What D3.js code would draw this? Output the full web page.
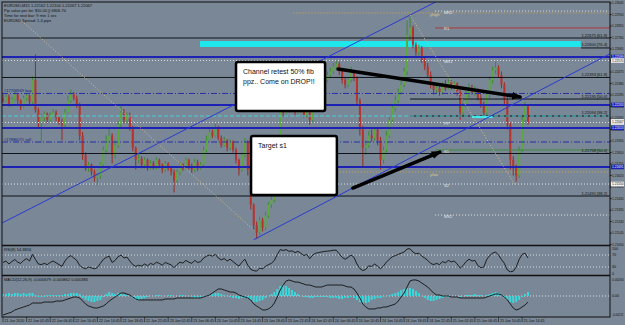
<!DOCTYPE html>
<html>
<head>
<meta charset="utf-8">
<script src="https://cdn.jsdelivr.net/npm/d3@7"></script>
<style>
  body { margin: 0; background: #798796; }
  svg text { font-family: "Liberation Sans", Arial, sans-serif; }
</style>
</head>
<body>
<svg id="chart" width="625" height="325"></svg>
<script>
// EURUSD bars (one bar every 30 min from 21 Jun 22:45)
const firstOpen = 1.2226
const closes = [
  1.2224,1.2227,1.2221,1.2225,1.2229,1.2224,1.2219,1.2226,1.2228,1.2223,
  1.2241,1.2216,1.2206,1.2210,1.2213,1.2208,1.2211,1.2214,1.2210,1.2206,
  1.2204,1.2214,1.2224,1.2229,1.2226,1.2220,1.2195,1.2179,1.2168,1.2171,
  1.2165,1.2160,1.2162,1.2171,1.2183,1.2191,1.2195,1.2179,1.2187,1.2204,
  1.2214,1.2208,1.2212,1.2201,1.2185,1.2175,1.2176,1.2171,1.2175,1.2168,
  1.2172,1.2169,1.2175,1.2171,1.2167,1.2172,1.2168,1.2165,1.2158,1.2165,
  1.2171,1.2168,1.2175,1.2170,1.2167,1.2173,1.2168,1.2171,1.2183,1.2191,
  1.2198,1.2195,1.2201,1.2193,1.2187,1.2191,1.2185,1.2190,1.2183,1.2175,
  1.2167,1.2179,1.2190,1.2167,1.2138,1.2121,1.2115,1.2125,1.2119,1.2129,
  1.2138,1.2142,1.2154,1.2183,1.2216,1.2214,1.2220,1.2216,1.2218,1.2214,
  1.2219,1.2216,1.2212,1.2214,1.2208,1.2218,1.2226,1.2231,1.2237,1.2241,
  1.2245,1.2248,1.2252,1.2254,1.2248,1.2241,1.2237,1.2241,1.2248,1.2243,
  1.2224,1.2200,1.2185,1.2187,1.2195,1.2193,1.2200,1.2191,1.2175,1.2183,
  1.2195,1.2208,1.2218,1.2224,1.2231,1.2237,1.2248,1.2278,1.2284,1.2270,
  1.2264,1.2267,1.2257,1.2252,1.2245,1.2237,1.2233,1.2234,1.2231,1.2237,
  1.2234,1.2239,1.2236,1.2238,1.2231,1.2214,1.2220,1.2229,1.2234,1.2231,
  1.2233,1.2226,1.2220,1.2214,1.2229,1.2241,1.2249,1.2251,1.2245,1.2237,
  1.2224,1.2204,1.2175,1.2168,1.2162,1.2183,1.2208,1.2220,1.2206
]
const highs = [
  1.2229,1.2229,1.2229,1.2227,1.2231,1.2230,1.2225,1.2228,1.2230,1.2229,
  1.2244,1.2262,1.2218,1.2213,1.2215,1.2214,1.2214,1.2217,1.2216,1.2211,
  1.2209,1.2217,1.2228,1.2233,1.2231,1.2228,1.2222,1.2198,1.2181,1.2173,
  1.2172,1.2167,1.2164,1.2173,1.2186,1.2195,1.2202,1.2197,1.2191,1.2207,
  1.2220,1.2217,1.2214,1.2214,1.2203,1.2186,1.2180,1.2178,1.2177,1.2176,
  1.2175,1.2174,1.2177,1.2176,1.2172,1.2174,1.2173,1.2170,1.2167,1.2167,
  1.2173,1.2172,1.2177,1.2176,1.2172,1.2176,1.2175,1.2173,1.2186,1.2195,
  1.2201,1.2200,1.2205,1.2203,1.2195,1.2194,1.2192,1.2192,1.2191,1.2185,
  1.2176,1.2181,1.2193,1.2191,1.2168,1.2139,1.2124,1.2128,1.2127,1.2132,
  1.2140,1.2145,1.2158,1.2187,1.2220,1.2219,1.2223,1.2222,1.2221,1.2219,
  1.2222,1.2221,1.2218,1.2217,1.2216,1.2220,1.2229,1.2234,1.2239,1.2244,
  1.2248,1.2251,1.2255,1.2257,1.2256,1.2249,1.2243,1.2243,1.2252,1.2249,
  1.2244,1.2226,1.2203,1.2191,1.2199,1.2200,1.2202,1.2201,1.2194,1.2186,
  1.2199,1.2211,1.2221,1.2228,1.2234,1.2241,1.2251,1.2290,1.2295,1.2286,
  1.2272,1.2270,1.2269,1.2260,1.2255,1.2248,1.2239,1.2238,1.2237,1.2239,
  1.2241,1.2242,1.2241,1.2240,1.2239,1.2233,1.2224,1.2232,1.2238,1.2237,
  1.2236,1.2234,1.2229,1.2223,1.2231,1.2244,1.2252,1.2256,1.2253,1.2248,
  1.2239,1.2227,1.2206,1.2178,1.2171,1.2186,1.2211,1.2223,1.2221
]
const lows = [
  1.2222,1.2223,1.2219,1.2219,1.2224,1.2221,1.2216,1.2218,1.2224,1.2220,
  1.2221,1.2214,1.2201,1.2189,1.2207,1.2205,1.2206,1.2210,1.2207,1.2204,
  1.2191,1.2202,1.2213,1.2222,1.2224,1.2218,1.2191,1.2175,1.2166,1.2165,
  1.2162,1.2157,1.2154,1.2159,1.2168,1.2181,1.2189,1.2172,1.2176,1.2185,
  1.2202,1.2205,1.2205,1.2199,1.2182,1.2167,1.2172,1.2168,1.2168,1.2166,
  1.2167,1.2167,1.2167,1.2168,1.2164,1.2165,1.2166,1.2162,1.2148,1.2156,
  1.2162,1.2166,1.2167,1.2167,1.2164,1.2165,1.2166,1.2167,1.2169,1.2181,
  1.2190,1.2193,1.2194,1.2191,1.2185,1.2186,1.2182,1.2183,1.2181,1.2172,
  1.2162,1.2165,1.2177,1.2162,1.2134,1.2117,1.2110,1.2113,1.2116,1.2117,
  1.2127,1.2135,1.2140,1.2152,1.2181,1.2211,1.2213,1.2214,1.2214,1.2212,
  1.2213,1.2214,1.2210,1.2210,1.2204,1.2206,1.2216,1.2224,1.2229,1.2235,
  1.2239,1.2243,1.2246,1.2250,1.2245,1.2238,1.2234,1.2235,1.2239,1.2240,
  1.2221,1.2195,1.2169,1.2179,1.2185,1.2190,1.2191,1.2187,1.2167,1.2172,
  1.2181,1.2193,1.2205,1.2215,1.2222,1.2229,1.2235,1.2245,1.2274,1.2267,
  1.2261,1.2261,1.2255,1.2249,1.2243,1.2234,1.2229,1.2230,1.2228,1.2229,
  1.2232,1.2233,1.2233,1.2233,1.2228,1.2208,1.2211,1.2218,1.2226,1.2229,
  1.2228,1.2224,1.2218,1.2210,1.2212,1.2226,1.2238,1.2246,1.2243,1.2234,
  1.2221,1.2200,1.2167,1.2162,1.2157,1.2160,1.2181,1.2205,1.2204
]
const rsiValues = [
  45,50,40,48,55,46,42,52,58,50, 72,55,40,38,42,38,45,50,44,38,
  32,50,62,68,60,52,35,28,24,30, 27,24,28,42,55,62,66,45,52,64,
  70,60,63,50,38,32,36,33,40,34, 42,38,46,42,36,45,41,37,28,38,
  46,43,52,46,42,52,45,48,60,66, 70,66,72,60,54,58,50,56,48,40,
  33,46,56,36,22,18,16,26,24,32, 38,42,52,72,88,85,88,82,84,78,
  82,76,68,72,58,70,76,78,80,82, 83,84,86,86,74,62,56,62,70,62,
  40,25,18,22,34,32,40,33,24,34, 46,56,64,68,72,76,80,90,91,80,
  74,76,66,60,52,42,38,42,38,48, 44,52,47,50,40,26,35,48,56,50,
  52,35,28,30,55,68,76,80,70,55, 42,20,14,16,30,55,72,76,60
]
const macdLine = [
  -0.00211,-0.00200,-0.00189,-0.00178,-0.00155,-0.00144,-0.00133,-0.00122,-0.00111,-0.00100,
  -0.00078,-0.00078,-0.00078,-0.00078,-0.00067,-0.00067,-0.00067,-0.00067,-0.00056,-0.00056,
  -0.00056,-0.00044,-0.00033,-0.00022,-0.00011,-0.00011,-0.00022,-0.00056,-0.00089,-0.00111,
  -0.00122,-0.00133,-0.00133,-0.00122,-0.00111,-0.00089,-0.00056,-0.00033,-0.00011,0.00011,
  0.00033,0.00033,0.00022,0.00011,-0.00011,-0.00033,-0.00044,-0.00044,-0.00044,-0.00044,
  -0.00044,-0.00044,-0.00044,-0.00044,-0.00044,-0.00033,-0.00033,-0.00033,-0.00033,-0.00022,
  -0.00022,-0.00022,-0.00022,-0.00022,-0.00022,-0.00022,-0.00022,-0.00022,-0.00011,0,
  0.00011,0.00033,0.00056,0.00078,0.00078,0.00067,0.00056,0.00044,0.00044,0.00033,
  0.00011,0,-0.00011,-0.00022,-0.00044,-0.00089,-0.00111,-0.00133,-0.00155,-0.00155,
  -0.00144,-0.00122,-0.00078,-0.00011,0.00067,0.00122,0.00167,0.00178,0.00167,0.00155,
  0.00155,0.00144,0.00133,0.00122,0.00122,0.00111,0.00100,0.00100,0.00100,0.00111,
  0.00122,0.00122,0.00122,0.00122,0.00122,0.00122,0.00111,0.00100,0.00100,0.00078,
  0.00033,-0.00022,-0.00089,-0.00122,-0.00144,-0.00144,-0.00144,-0.00133,-0.00133,-0.00122,
  -0.00122,-0.00111,-0.00100,-0.00089,-0.00056,-0.00011,0.00033,0.00100,0.00167,0.00178,
  0.00178,0.00167,0.00144,0.00122,0.00100,0.00067,0.00033,0.00011,0.00011,0,
  0,0,-0.00011,-0.00011,-0.00011,-0.00022,-0.00022,-0.00022,-0.00022,-0.00022,
  -0.00022,-0.00022,-0.00022,-0.00022,-0.00011,0,0.00011,0.00022,0.00022,0.00011,
  -0.00011,-0.00044,-0.00089,-0.00133,-0.00155,-0.00144,-0.00122,-0.00100,-0.00067
]
const macdHist = [
  0.00022,0.00022,0.00033,0.00022,0.00033,0.00033,0.00022,0.00033,0.00022,0.00033,
  0.00033,0.00011,-0.00011,-0.00011,-0.00011,0.00011,0.00011,0.00011,0.00011,0.00011,
  0.00011,0.00022,0.00022,0.00033,0.00033,0.00033,0.00022,-0.00022,-0.00044,-0.00056,
  -0.00067,-0.00067,-0.00056,-0.00044,-0.00011,0.00022,0.00044,0.00033,0.00022,0.00033,
  0.00033,0.00022,0.00011,0,-0.00022,-0.00044,-0.00044,-0.00033,-0.00022,-0.00011,
  0,0,0.00011,0.00011,0,0,0.00011,0.00011,0,0,
  0.00011,0.00011,0,0,-0.00011,-0.00022,-0.00022,-0.00011,-0.00011,0,
  0.00011,0.00022,0.00033,0.00033,0.00022,0.00011,0,-0.00011,-0.00022,-0.00022,
  -0.00033,-0.00022,-0.00022,-0.00033,-0.00044,-0.00067,-0.00067,-0.00056,-0.00044,-0.00022,
  0,0.00022,0.00044,0.00078,0.00111,0.00122,0.00111,0.00089,0.00067,0.00044,
  0.00022,0,-0.00011,-0.00011,-0.00022,-0.00022,-0.00011,-0.00011,-0.00011,-0.00011,
  -0.00011,-0.00022,-0.00022,-0.00022,-0.00033,-0.00033,-0.00022,-0.00022,-0.00011,-0.00022,
  -0.00044,-0.00067,-0.00078,-0.00078,-0.00067,-0.00044,-0.00033,-0.00022,-0.00022,-0.00011,
  0,0.00011,0.00022,0.00033,0.00044,0.00067,0.00078,0.00089,0.00089,0.00078,
  0.00056,0.00033,0,-0.00022,-0.00044,-0.00056,-0.00056,-0.00044,-0.00033,-0.00022,
  -0.00011,-0.00011,0,0,0,-0.00011,0,0.00011,0.00011,0.00011,
  0.00022,0.00011,0.00011,0,0.00011,0.00022,0.00033,0.00044,0.00033,0.00011,
  -0.00022,-0.00044,-0.00067,-0.00078,-0.00067,-0.00044,-0.00011,0.00022,0.00044
]

const priceTicks = [1.23045,1.22950,1.22855,1.22760,1.22665,1.22570,1.22475,1.22380,1.22285,1.22190,1.22095,
  1.22000,1.21905,1.21810,1.21715,1.21620,1.21525,1.21430,1.21335,1.21240,1.21145,1.21050]
const timeLabels = ['21 Jun 2010','22 Jun 02:45','22 Jun 06:45','22 Jun 10:45','22 Jun 14:45','22 Jun 18:45',
  '22 Jun 22:45','23 Jun 02:45','23 Jun 06:45','23 Jun 10:45','23 Jun 14:45','23 Jun 18:45','23 Jun 22:45',
  '24 Jun 02:45','24 Jun 06:45','24 Jun 10:45','24 Jun 14:45','24 Jun 18:45','24 Jun 22:45','25 Jun 02:45',
  '25 Jun 06:45','25 Jun 10:45','25 Jun 14:45']
const barsPerTimeLabel = 8

// horizontal levels (price, first bar index, text)
const fibLevels = [
  { price: 1.22756, from: 0, text: '1.22675  [61.8]' },
  { price: 1.22674, from: 196, text: '1.22600  [76.4]' },
  { price: 1.22430, from: 0, text: '1.22393  [61.8]' },
  { price: 1.22252, from: 138, text: '1.22195  [50.0]' },
  { price: 1.22112, from: 138, text: '1.22094  [38.2]' },
  { price: 1.21802, from: 0, text: '1.21758  [50.0]' },
  { price: 1.21451, from: 0, text: '1.21491  [38.2]' }
]
const blueLevels = [1.22599, 1.22203, 1.22013, 1.21691]
const orderLevels = [
  { price: 1.22298, text: '#17708949 buy' },
  { price: 1.21897, text: '#17886071 sell' }
]
const dottedLevels = [
  { price: 1.22979, from: 146.5, text: 'MR2' },
  { price: 1.22570, from: 0, text: 'MR1' },
  { price: 1.22058, from: 0, text: 'PP' },
  { price: 1.21550, from: 0, text: 'S2' },
  { price: 1.21294, from: 146.5, text: 'MS2' }
]
const resistLevels = [{ price: 1.22839, from: 146.5, text: 'R1' }]
const supportLevels = [{ price: 1.21831, from: 146.5, text: 'S1' }]
const dayLevels = [
  { price: 1.22963, from: 98.5, text: 'yhigh' },
  { price: 1.21649, from: 114.2, text: 'ylow' }
]
const zoneLevel = { top: 1.22731, bottom: 1.22682, from: 66.8, to: 195.9 }
const dashedCyanLevel = 1.22112
const retestSegment = { price: 1.22103, from: 159, to: 166 }

const channelUpper = [{ i: 0, p: 1.21232 }, { i: 138, p: 1.22946 }]
const channelLower = [{ i: 85, p: 1.21090 }, { i: 203, p: 1.22590 }]
const fibDiagonals = [
  [{ i: 6.4, p: 1.22897 }, { i: 85.4, p: 1.21162 }],
  [{ i: 138, p: 1.22946 }, { i: 173.6, p: 1.21542 }]
]
const arrows = [
  [{ i: 113.6, p: 1.22500 }, { i: 175.3, p: 1.22269 }],
  [{ i: 118.6, p: 1.21517 }, { i: 148.1, p: 1.21814 }]
]
const notes = [
  { i0: 79.0, p0: 1.22558, i1: 109.2, p1: 1.22153, lines: ['Channel retest 50% fib', 'ppz.. Come on DROP!!'] },
  { i0: 84.1, p0: 1.21947, i1: 113.2, p1: 1.21459, lines: ['Target s1'] }
]
const headerLines = ['EURUSD,M15  1.22162 1.22100 1.22067 1.22067', 'Pip value per lot: $10.00  ||  6806.70',
  'Time for next bar: 9 min 1 sec', 'EURUSD Spread: 1.4 pips']
const rsiTitle = 'RSI(8) 54.3816'
const macdTitle = 'MACD(12,26,9) -0.000679 -0.000862 0.000383'
const rsiTicks = [100, 70, 30, 0]
const macdTicks = [0.00200, 0, -0.00211]
const lastPrice = 1.22067

const left = 2, right = 610
const mainTop = 2, mainBottom = 245
const rsiTop = 246, rsiBottom = 275
const macdTop = 276, macdBottom = 317

const x = d3.scaleLinear().domain([0, 178]).range([3, 528])
const y = d3.scaleLinear().domain([1.21005, 1.2307]).range([250, 0])
const rsiY = d3.scaleLinear().domain([0, 100]).range([276, 246])
const macdY = d3.scaleLinear().domain([-0.00211, 0.00200]).range([315, 278])

const svg = d3.select('#chart')
svg.append('rect').attr('width', 625).attr('height', 325).attr('fill', '#798796')

const defs = svg.append('defs')
defs.append('clipPath').attr('id', 'mainClip').append('rect')
  .attr('x', left).attr('y', mainTop).attr('width', right - left).attr('height', mainBottom - mainTop)
defs.append('marker').attr('id', 'head')
  .attr('markerUnits', 'userSpaceOnUse').attr('viewBox', '0 0 10 8')
  .attr('markerWidth', 10).attr('markerHeight', 8).attr('refX', 8).attr('refY', 4).attr('orient', 'auto')
  .append('path').attr('d', 'M0,0L10,4L0,8Z').attr('fill', '#000')

const main = svg.append('g').attr('clip-path', 'url(#mainClip)')

// supply/demand zone
main.append('rect')
  .attr('x', x(zoneLevel.from)).attr('width', x(zoneLevel.to) - x(zoneLevel.from))
  .attr('y', y(zoneLevel.top)).attr('height', y(zoneLevel.bottom) - y(zoneLevel.top))
  .attr('fill', '#1ee8ec')

function hline(g, price, from, color, width, dash) {
  g.append('line')
    .attr('x1', from > 0 ? x(from) : left).attr('x2', right)
    .attr('y1', y(price)).attr('y2', y(price))
    .attr('stroke', color).attr('stroke-width', width)
    .attr('stroke-dasharray', dash || null)
}

// candles
const bars = closes.map((c, i) => ({ i, o: i ? closes[i - 1] : firstOpen, c, h: highs[i], l: lows[i] }))
const candle = main.selectAll('.candle').data(bars).enter().append('g').attr('class', 'candle')
candle.append('line')
  .attr('x1', d => x(d.i)).attr('x2', d => x(d.i))
  .attr('y1', d => y(Math.max(d.h, d.o, d.c))).attr('y2', d => y(Math.min(d.l, d.o, d.c)))
  .attr('stroke', d => d.c >= d.o ? '#3f8a36' : '#9a2b26').attr('stroke-width', 1)
candle.append('rect')
  .attr('x', d => x(d.i) - 1).attr('width', 2)
  .attr('y', d => y(Math.max(d.o, d.c)))
  .attr('height', d => Math.max(1, Math.abs(y(d.o) - y(d.c))))
  .attr('fill', d => d.c >= d.o ? '#5da843' : '#b8332b')

// levels
fibLevels.forEach(d => hline(main, d.price, d.from, '#101418', 1))
blueLevels.forEach(p => hline(main, p, 0, '#1d22b4', 2))
orderLevels.forEach(d => hline(main, d.price, 0, '#2a2fa8', 1, '6,2,1,2'))
dottedLevels.forEach(d => hline(main, d.price, d.from, '#dfe3e6', 1, '1,2'))
resistLevels.forEach(d => hline(main, d.price, d.from, '#b03a3a', 1))
supportLevels.forEach(d => hline(main, d.price, d.from, '#3e8a3e', 1))
dayLevels.forEach(d => hline(main, d.price, d.from, '#d8a850', 1, '1,2'))
hline(main, dashedCyanLevel, 0, '#45d2d6', 1, '4,2')
main.append('line')
  .attr('x1', x(retestSegment.from)).attr('x2', x(retestSegment.to))
  .attr('y1', y(retestSegment.price)).attr('y2', y(retestSegment.price))
  .attr('stroke', '#40eef0').attr('stroke-width', 2)

// channel and fib diagonals, extended through the panel
function ray(g, pts, color, width, dash, both) {
  const [a, b] = pts
  const slope = (b.p - a.p) / (b.i - a.i)
  const i0 = both ? -20 : a.i
  const i1 = 230
  g.append('line')
    .attr('x1', x(i0)).attr('y1', y(a.p + slope * (i0 - a.i)))
    .attr('x2', x(i1)).attr('y2', y(a.p + slope * (i1 - a.i)))
    .attr('stroke', color).attr('stroke-width', width).attr('stroke-dasharray', dash || null)
}
ray(main, channelUpper, '#2b3ad0', 1, null, true)
ray(main, channelLower, '#2b3ad0', 1, null, false)
fibDiagonals.forEach(pts => {
  main.append('line')
    .attr('x1', x(pts[0].i)).attr('y1', y(pts[0].p))
    .attr('x2', x(pts[1].i)).attr('y2', y(pts[1].p))
    .attr('stroke', '#d9c08a').attr('stroke-width', 1).attr('stroke-dasharray', '1,2')
})

// level labels
const small = svg.append('g').attr('font-size', 4)
fibLevels.forEach(d => small.append('text').attr('x', 607).attr('y', y(d.price) - 1.5)
  .attr('text-anchor', 'end').attr('fill', '#111').text(d.text))
orderLevels.forEach(d => small.append('text').attr('x', 4).attr('y', y(d.price) - 1.5)
  .attr('fill', '#1a1f80').text(d.text))
dottedLevels.concat(resistLevels, supportLevels).forEach(d => small.append('text')
  .attr('x', 444).attr('y', y(d.price) + 2.5).attr('fill', '#e6e8ea').text(d.text))
dayLevels.forEach(d => small.append('text').attr('x', 430).attr('y', y(d.price) + 3.5)
  .attr('fill', '#e0c890').text(d.text))
headerLines.forEach((t, k) => small.append('text').attr('x', 4).attr('y', 7 + k * 5)
  .attr('fill', '#111').text(t))

// annotations
arrows.forEach(pts => {
  svg.append('line')
    .attr('x1', x(pts[0].i)).attr('y1', y(pts[0].p))
    .attr('x2', x(pts[1].i)).attr('y2', y(pts[1].p))
    .attr('stroke', '#000').attr('stroke-width', 3.5).attr('stroke-linecap', 'round')
    .attr('marker-end', 'url(#head)')
})
notes.forEach(n => {
  const g = svg.append('g')
  g.append('rect')
    .attr('x', x(n.i0)).attr('y', y(n.p0))
    .attr('width', x(n.i1) - x(n.i0)).attr('height', y(n.p1) - y(n.p0))
    .attr('rx', 2).attr('fill', '#fff').attr('stroke', '#000').attr('stroke-width', 2.5)
  n.lines.forEach((t, k) => g.append('text')
    .attr('x', x(n.i0) + 7).attr('y', y(n.p0) + 12 + k * 10)
    .attr('font-size', 7).attr('fill', '#111').text(t))
})

// sub panels
svg.append('line').attr('x1', left).attr('x2', right).attr('y1', rsiY(70)).attr('y2', rsiY(70))
  .attr('stroke', '#d8dde2').attr('stroke-dasharray', '1,2')
svg.append('line').attr('x1', left).attr('x2', right).attr('y1', rsiY(30)).attr('y2', rsiY(30))
  .attr('stroke', '#d8dde2').attr('stroke-dasharray', '1,2')
svg.append('path').datum(rsiValues)
  .attr('d', d3.line().x((d, i) => x(i)).y(d => rsiY(d)))
  .attr('fill', 'none').attr('stroke', '#111').attr('stroke-width', 0.9)

svg.append('line').attr('x1', left).attr('x2', right).attr('y1', macdY(0)).attr('y2', macdY(0))
  .attr('stroke', '#d8dde2').attr('stroke-dasharray', '1,2')
svg.selectAll('.hist').data(macdHist).enter().append('rect').attr('class', 'hist')
  .attr('x', (d, i) => x(i) - 1).attr('width', 2)
  .attr('y', d => Math.min(macdY(d), macdY(0)))
  .attr('height', d => Math.abs(macdY(d) - macdY(0)))
  .attr('fill', '#3ad8dc')
svg.append('path').datum(macdLine)
  .attr('d', d3.line().x((d, i) => x(i)).y(d => macdY(d)))
  .attr('fill', 'none').attr('stroke', '#111').attr('stroke-width', 0.9)

small.append('text').attr('x', 4).attr('y', rsiTop + 5).attr('fill', '#111').text(rsiTitle)
small.append('text').attr('x', 4).attr('y', macdTop + 5).attr('fill', '#111').text(macdTitle)

// frames
const frame = svg.append('g').attr('fill', 'none').attr('stroke', '#111')
frame.append('rect').attr('x', left).attr('y', mainTop).attr('width', right - left).attr('height', macdBottom - mainTop).attr('stroke-width', 1)
;[mainBottom, rsiBottom].forEach(v => frame.append('line')
  .attr('x1', left).attr('x2', right).attr('y1', v + 0.5).attr('y2', v + 0.5).attr('stroke-width', 1.5))

// price axis: labels squeezed into the 14px strip right of the plot
const axis = svg.append('g').attr('font-size', 3.6).attr('fill', '#111')
function axisText(ty, t, color) {
  axis.append('text').attr('x', right + 2).attr('y', ty)
    .attr('textLength', 11.5).attr('lengthAdjust', 'spacingAndGlyphs')
    .attr('fill', color || '#111').text(t)
}
priceTicks.forEach(p => {
  axis.append('line').attr('x1', right).attr('x2', right + 1.5).attr('y1', y(p)).attr('y2', y(p)).attr('stroke', '#111')
  axisText(y(p) + 1.2, p.toFixed(5))
})
blueLevels.forEach(p => {
  axis.append('rect').attr('x', right + 1).attr('y', y(p) - 2.3).attr('width', 13).attr('height', 4.6).attr('fill', '#1d22b4')
  axisText(y(p) + 1.2, p.toFixed(5), '#fff')
})
dottedLevels.filter(d => d.from === 0).map(d => d.price).concat([lastPrice]).forEach(p => {
  axis.append('rect').attr('x', right + 1).attr('y', y(p) - 2.3).attr('width', 13).attr('height', 4.6).attr('fill', '#eef0f2')
  axisText(y(p) + 1.2, p.toFixed(5))
})
rsiTicks.forEach(v => axis.append('text').attr('x', right + 2)
  .attr('y', v === 100 ? rsiY(v) + 3.5 : v === 0 ? rsiY(v) - 0.8 : rsiY(v) + 1.2).text(v))
macdTicks.forEach(v => axis.append('text').attr('x', right + 2)
  .attr('y', v > 0 ? macdY(v) + 3 : macdY(v) + 1.2)
  .attr('textLength', v === 0 ? null : 11.5).attr('lengthAdjust', 'spacingAndGlyphs')
  .text(v === 0 ? '0.00' : v.toFixed(5)))

// time axis
timeLabels.forEach((t, k) => {
  const tx = x(k * barsPerTimeLabel)
  axis.append('line').attr('x1', tx).attr('x2', tx).attr('y1', macdBottom).attr('y2', macdBottom + 5).attr('stroke', '#111').attr('stroke-width', 0.6)
  axis.append('text').attr('x', tx + 1.5).attr('y', macdBottom + 5).attr('font-size', 3.6).text(t)
})
</script>
</body>
</html>
